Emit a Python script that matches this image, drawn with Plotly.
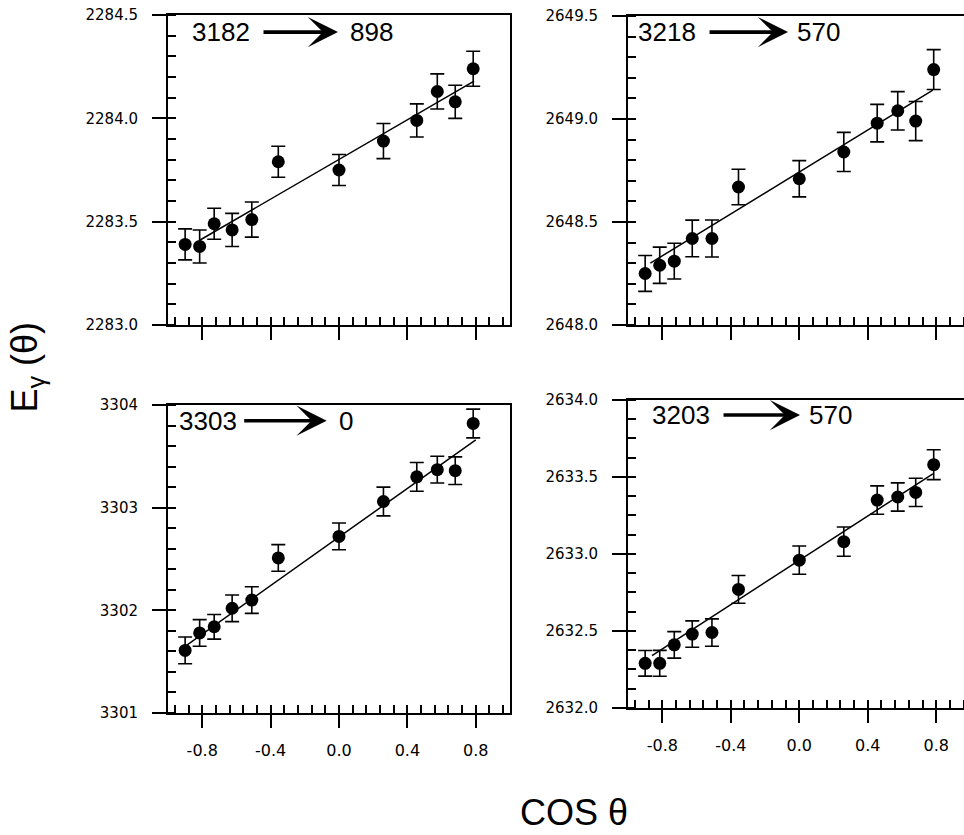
import plotly.graph_objects as go

# cos(theta) of the detector angles (shared by all four transitions)
cos_theta = [-0.90, -0.815, -0.73, -0.625, -0.51, -0.355, 0.0, 0.26, 0.455, 0.575, 0.68, 0.785]

# 3182 -> 898
e_3182 = [2283.39, 2283.38, 2283.49, 2283.46, 2283.51, 2283.79, 2283.75, 2283.89, 2283.99, 2284.13, 2284.08, 2284.24]
err_3182 = [0.075, 0.08, 0.075, 0.08, 0.085, 0.075, 0.075, 0.085, 0.08, 0.085, 0.08, 0.085]
fit_x_3182 = [-0.815, 0.79]
fit_y_3182 = [2283.41, 2284.18]

# 3218 -> 570
e_3218 = [2648.25, 2648.29, 2648.31, 2648.42, 2648.42, 2648.67, 2648.71, 2648.84, 2648.98, 2649.04, 2648.99, 2649.24]
err_3218 = [0.087, 0.088, 0.087, 0.089, 0.09, 0.086, 0.088, 0.095, 0.091, 0.093, 0.095, 0.097]
fit_x_3218 = [-0.87, 0.78]
fit_y_3218 = [2648.30, 2649.14]

# 3303 -> 0
e_3303 = [3301.61, 3301.78, 3301.84, 3302.02, 3302.10, 3302.51, 3302.72, 3303.06, 3303.30, 3303.37, 3303.36, 3303.82]
err_3303 = [0.13, 0.13, 0.12, 0.13, 0.13, 0.13, 0.13, 0.14, 0.14, 0.13, 0.135, 0.14]
fit_x_3303 = [-0.90, 0.80]
fit_y_3303 = [3301.65, 3303.66]

# 3203 -> 570
e_3203 = [2632.29, 2632.29, 2632.41, 2632.48, 2632.49, 2632.77, 2632.96, 2633.08, 2633.35, 2633.37, 2633.40, 2633.58]
err_3203 = [0.083, 0.084, 0.086, 0.086, 0.089, 0.09, 0.092, 0.095, 0.092, 0.092, 0.092, 0.097]
fit_x_3203 = [-0.86, 0.78]
fit_y_3203 = [2632.34, 2633.52]

x_tickvals = [-0.8, -0.4, 0.0, 0.4, 0.8]
x_ticktext = ["-0.8", "-0.4", "0.0", "0.4", "0.8"]

panels = [
    dict(e=e_3182, err=err_3182, fx=fit_x_3182, fy=fit_y_3182, lvl_from="3182", lvl_to="898",
         yr=[2283.0, 2284.5], dt=0.5, mdt=0.1, fmt=".1f"),
    dict(e=e_3218, err=err_3218, fx=fit_x_3218, fy=fit_y_3218, lvl_from="3218", lvl_to="570",
         yr=[2648.0, 2649.5], dt=0.5, mdt=0.1, fmt=".1f"),
    dict(e=e_3303, err=err_3303, fx=fit_x_3303, fy=fit_y_3303, lvl_from="3303", lvl_to="0",
         yr=[3301, 3304], dt=1, mdt=0.2, fmt="d"),
    dict(e=e_3203, err=err_3203, fx=fit_x_3203, fy=fit_y_3203, lvl_from="3203", lvl_to="570",
         yr=[2632.0, 2634.0], dt=0.5, mdt=0.125, fmt=".1f"),
]

# layout of the 2x2 grid (paper fractions), right panels cut off at the edge like the original
x_domains = [[0.1743, 0.5290], [0.6515, 1.0], [0.1743, 0.5290], [0.6515, 1.0]]
y_domains = [[0.6108, 0.9820], [0.6108, 0.9808], [0.1461, 0.5150], [0.1521, 0.5210]]
x_ranges = [[-1, 1], [-1, 0.962], [-1, 1], [-1, 0.962]]
# label / arrow positions inside each panel (axis-domain fractions)
lbl_pos = [
    dict(left=0.2456, head=0.4971, ax=-76, right=0.5263, y=0.945),
    dict(left=0.2092, head=0.4762, ax=-80, right=0.4970, y=0.948),
    dict(left=0.2085, head=0.4640, ax=-84, right=0.4933, y=0.949),
    dict(left=0.2491, head=0.5119, ax=-78, right=0.5327, y=0.951),
]

x_tick_font = dict(family="DejaVu Sans, Arial, sans-serif", size=16, color="black")
y_tick_font = dict(family="DejaVu Sans, Arial, sans-serif", size=15, color="black")
label_font = dict(family="Arial, Liberation Sans, sans-serif", size=26, color="black")

fig = go.Figure()
layout = {}
annotations = []

for i, p in enumerate(panels):
    n = "" if i == 0 else str(i + 1)
    xa, ya = "x" + n, "y" + n

    fig.add_trace(go.Scatter(
        x=p["fx"], y=p["fy"], mode="lines",
        line=dict(color="black", width=1.5),
        xaxis=xa, yaxis=ya, showlegend=False, hoverinfo="skip"))
    fig.add_trace(go.Scatter(
        x=cos_theta, y=p["e"], mode="markers",
        marker=dict(color="black", size=13),
        error_y=dict(type="data", array=p["err"], color="black", thickness=1.6, width=7),
        xaxis=xa, yaxis=ya, showlegend=False))

    layout["xaxis" + n] = dict(
        domain=x_domains[i], anchor=ya, range=x_ranges[i],
        showline=True, linecolor="black", linewidth=2, mirror=True,
        showgrid=False, zeroline=False,
        tickmode="array", tickvals=x_tickvals, ticktext=x_ticktext,
        ticks="outside", ticklen=13, tickwidth=2, tickcolor="black",
        minor=dict(tickmode="linear", tick0=0, dtick=0.08, ticks="inside",
                   ticklen=8, tickwidth=1.5, tickcolor="black"),
        showticklabels=(i >= 2), tickfont=x_tick_font, ticklabelstandoff=9,
        automargin=False)
    layout["yaxis" + n] = dict(
        domain=y_domains[i], anchor=xa, range=p["yr"],
        showline=True, linecolor="black", linewidth=2, mirror=(i % 2 == 0),
        showgrid=False, zeroline=False,
        tickmode="linear", tick0=p["yr"][0], dtick=p["dt"], tickformat=p["fmt"],
        ticks="outside", ticklen=14, tickwidth=2, tickcolor="black",
        minor=dict(tickmode="linear", tick0=p["yr"][0], dtick=p["mdt"], ticks="inside",
                   ticklen=8, tickwidth=1.5, tickcolor="black"),
        tickfont=y_tick_font, ticklabelstandoff=11, automargin=False)

    lp = lbl_pos[i]
    annotations += [
        dict(xref=xa + " domain", yref=ya + " domain", x=lp["left"], y=lp["y"],
             text=p["lvl_from"], showarrow=False, xanchor="right", yanchor="middle",
             font=label_font),
        dict(xref=xa + " domain", yref=ya + " domain", x=lp["right"], y=lp["y"],
             text=p["lvl_to"], showarrow=False, xanchor="left", yanchor="middle",
             font=label_font),
        dict(xref=xa + " domain", yref=ya + " domain", x=lp["head"], y=lp["y"],
             text="", showarrow=True, ax=lp["ax"], ay=0, arrowhead=3,
             arrowwidth=3.6, arrowsize=1.4, arrowcolor="black", standoff=0),
    ]

annotations += [
    dict(xref="paper", yref="paper", x=0.028, y=0.561, text="E<sub>γ</sub> (θ)",
         textangle=-90, showarrow=False, xanchor="center", yanchor="middle",
         font=dict(family="Arial, Liberation Sans, sans-serif", size=36, color="black")),
    dict(xref="paper", yref="paper", x=0.595, y=0.027, text="COS θ",
         showarrow=False, xanchor="center", yanchor="middle",
         font=dict(family="Arial, Liberation Sans, sans-serif", size=36, color="black")),
]

fig.update_layout(
    width=964, height=835,
    margin=dict(l=0, r=0, t=0, b=0),
    plot_bgcolor="white", paper_bgcolor="white",
    annotations=annotations,
    **layout)

# drop the default body margin so the figure sits at the page origin
fig.write_html("out.html", config={"displayModeBar": False},
               post_script="document.body.style.margin='0';")
